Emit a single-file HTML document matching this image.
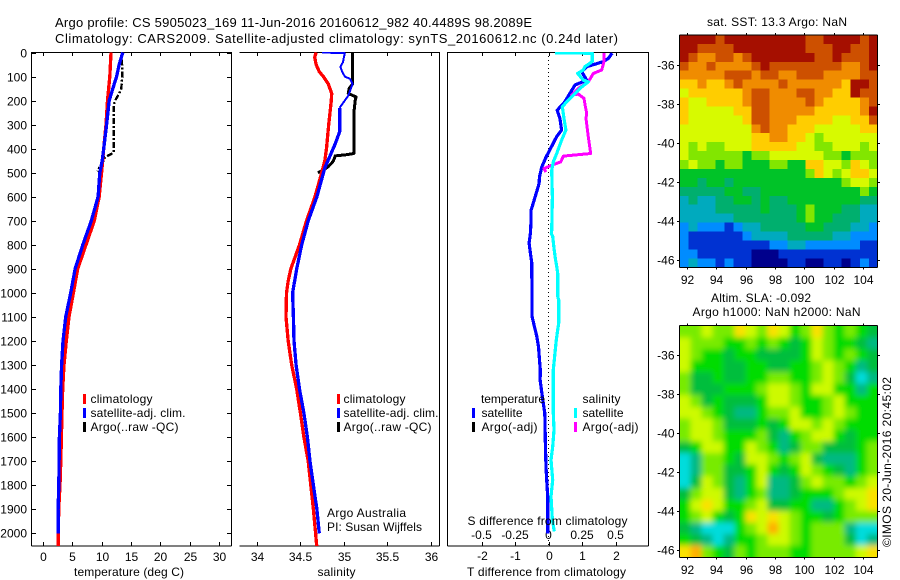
<!DOCTYPE html>
<html lang="en">
<head>
<meta charset="utf-8">
<title>Argo profile 5905023_169</title>
<style>
html,body{margin:0;padding:0;background:#fff;}
svg{display:block;font-family:"Liberation Sans",sans-serif;font-size:12px;fill:#000;}
text{fill:#000;}
.big{font-size:13px;}
</style>
</head>
<body>
<svg id="chart" xmlns="http://www.w3.org/2000/svg" width="900" height="580" viewBox="0 0 900 580">
  <rect x="0" y="0" width="900" height="580" fill="#ffffff"/>
  <defs>
    <clipPath id="clip-t"><rect x="31.5" y="52" width="200" height="494"/></clipPath>
    <clipPath id="clip-s"><rect x="239.5" y="52" width="200" height="494"/></clipPath>
    <clipPath id="clip-d"><rect x="447.5" y="52" width="201" height="494"/></clipPath>
    <clipPath id="clip-sla"><rect x="679.5" y="325.5" width="198" height="232"/></clipPath>
    <filter id="sla-blur" x="-10%" y="-10%" width="120%" height="120%"><feGaussianBlur stdDeviation="3"/></filter>
  </defs>

  <text class="big" x="55" y="27" textLength="477">Argo profile: CS 5905023_169 11-Jun-2016 20160612_982 40.4489S 98.2089E</text>
  <text class="big" x="55" y="43" textLength="563">Climatology: CARS2009. Satellite-adjusted climatology: synTS_20160612.nc (0.24d later)</text>

  <g id="sst-map"></g>
  <g clip-path="url(#clip-sla)"><g id="sla-map" filter="url(#sla-blur)"></g></g>
  <g id="axes"></g>
  <g id="lines-t" clip-path="url(#clip-t)"></g>
  <g id="lines-s" clip-path="url(#clip-s)"></g>
  <g id="lines-d" clip-path="url(#clip-d)"></g>

  <g>
    <rect x="83" y="394" width="3" height="10" fill="#ff0000"/>
    <rect x="83" y="408" width="3" height="10" fill="#0000ff"/>
    <rect x="83" y="422" width="3" height="10" fill="#000000"/>
    <text x="90.5" y="403" textLength="62">climatology</text>
    <text x="90.5" y="417" textLength="95">satellite-adj. clim.</text>
    <text x="90.5" y="431" textLength="88">Argo(..raw -QC)</text>
  </g>
  <g>
    <rect x="337" y="394" width="3" height="10" fill="#ff0000"/>
    <rect x="337" y="408" width="3" height="10" fill="#0000ff"/>
    <rect x="337" y="422" width="3" height="10" fill="#000000"/>
    <text x="343.5" y="403" textLength="62">climatology</text>
    <text x="343.5" y="417" textLength="95">satellite-adj. clim.</text>
    <text x="343.5" y="431" textLength="88">Argo(..raw -QC)</text>
    <text x="327" y="517" textLength="79">Argo Australia</text>
    <text x="327" y="531" textLength="95">PI: Susan Wijffels</text>
  </g>
  <g>
    <text x="481" y="403" textLength="64">temperature</text>
    <text x="582.5" y="403" textLength="38">salinity</text>
    <rect x="472" y="408" width="3" height="10" fill="#0000ff"/>
    <rect x="472" y="422" width="3" height="10" fill="#000000"/>
    <rect x="574" y="408" width="3" height="10" fill="#00ffff"/>
    <rect x="574" y="422" width="3" height="10" fill="#ff00ff"/>
    <text x="481.5" y="417" textLength="41">satellite</text>
    <text x="481.5" y="431" textLength="56">Argo(-adj)</text>
    <text x="582.5" y="417" textLength="41">satellite</text>
    <text x="582.5" y="431" textLength="56">Argo(-adj)</text>
    <text x="467.5" y="525" textLength="160">S difference from climatology</text>
  </g>

  <text x="74" y="576" textLength="110">temperature (deg C)</text>
  <text x="317.5" y="576" textLength="38">salinity</text>
  <text x="467" y="576" textLength="159">T difference from climatology</text>

  <text x="707" y="26" textLength="140">sat. SST: 13.3 Argo: NaN</text>
  <text x="711" y="302" textLength="100">Altim. SLA: -0.092</text>
  <text x="692.5" y="316" textLength="168">Argo h1000: NaN h2000: NaN</text>
  <text transform="translate(891,547) rotate(-90)" x="0" y="0" textLength="170">©IMOS 20-Jun-2016 20:45:02</text>
</svg>

<script>
// ---- axis tick labels ----
const depthTicks = [0,100,200,300,400,500,600,700,800,900,1000,1100,1200,1300,1400,1500,1600,1700,1800,1900,2000];
const tempTicks = [0,5,10,15,20,25,30];
const salTicks = [34,34.5,35,35.5,36];
const tDiffTicks = [-2,-1,0,1,2];
const sDiffTicks = [-0.5,-0.25,0,0.25,0.5];
const sDiffLabels = ['-0.5','-0.25','0','0.25','0.5'];
const lonTicks = [92,94,96,98,100,102,104];
const latTicks = [-36,-38,-40,-42,-44,-46];

// ---- temperature panel series ----
const tClimDepth = [0,50,100,200,300,400,500,600,700,800,900,1000,1100,1200,1300,1400,1500,1600,1700,1800,1900,2000,2060];
const tClimValue = [11.6,11.5,11.4,11.0,10.75,10.35,10.0,9.6,8.76,7.35,5.93,5.2,4.45,4.0,3.6,3.38,3.27,3.17,3.06,2.93,2.7,2.65,2.6];
const tSatDepth = [0,50,100,150,200,300,400,450,500,600,700,800,900,1000,1100,1200,1300,1400,1500,1600,1700,1800,1900,2000];
const tSatValue = [13.6,13.0,12.55,11.9,11.3,10.85,10.35,10.1,9.7,9.4,8.25,6.8,5.5,4.75,3.9,3.43,3.2,3.06,3.0,2.83,2.78,2.72,2.6,2.6];
const tArgoDepth = [30,100,150,170,200,215,300,415,425,435,470,480,495];
const tArgoValue = [13.47,13.5,13.35,13.0,12.3,12.1,12.05,12.05,11.43,10.6,10.0,9.6,9.3];

// ---- salinity panel series ----
const sClimDepth = [0,20,50,80,100,130,170,200,300,400,450,500,600,700,800,850,900,950,1000,1100,1200,1300,1400,1500,1600,1700,1800,1900,2000,2060];
const sClimValue = [34.68,34.664,34.68,34.717,34.763,34.82,34.86,34.855,34.825,34.80,34.78,34.745,34.668,34.57,34.49,34.44,34.39,34.36,34.34,34.335,34.36,34.4,34.457,34.5,34.54,34.59,34.62,34.65,34.675,34.69];
const sSatDepth = [0,3,20,40,60,80,100,110,130,150,180,230,330,380,430,480,600,700,800,900,1000,1100,1200,1300,1400,1500,1600,1700,1800,1900,2000];
const sSatValue = [34.75,35.01,35.0,34.99,34.96,34.98,35.01,35.07,35.1,35.08,35.05,34.95,34.95,34.9,34.84,34.78,34.69,34.59,34.515,34.457,34.41,34.42,34.426,34.45,34.49,34.54,34.58,34.61,34.65,34.69,34.717];
const sArgoDepth = [0,130,150,170,185,200,250,420,425,430,450,460,475,490,500];
const sArgoValue = [35.1,35.1,35.06,35.05,35.14,35.13,35.115,35.115,35.03,34.9,34.88,34.86,34.82,34.756,34.7];

// ---- difference panel series ----
const dTSatDepth = [3,24,38,59,80,115,135,170,205,240,274,323,351,392,434,476,517,545,601,656,697,752,793,835,877,932,974,1098,1140,1181,1223,1279,1320,1362,1445,1501,1612,1724,1778,1847,2000];
const dTSatValue = [1.9,1.79,1.64,1.14,0.99,1.14,0.79,0.64,0.49,0.26,0.34,0.39,0.24,0.09,-0.07,-0.2,-0.27,-0.28,-0.4,-0.52,-0.52,-0.54,-0.58,-0.54,-0.5,-0.5,-0.49,-0.49,-0.42,-0.35,-0.3,-0.27,-0.245,-0.25,-0.17,-0.11,-0.095,-0.075,-0.055,-0.025,-0.025];
const dSSatDepth = [2,3,38,59,73,87,115,122,149,177,205,226,274,323,365,420,455,490,601,740,752,766,814,856,890,918,1015,1029,1126,1154,1195,1237,1279,1320,1403,1501,1570,1640,1695,1778,1847,1944,1992];
const dSSatValue = [0.05,0.327,0.327,0.272,0.26,0.218,0.26,0.297,0.235,0.185,0.136,0.103,0.116,0.13,0.098,0.061,0.036,0.024,0.029,0.024,0.021,0.031,0.041,0.051,0.061,0.069,0.069,0.076,0.076,0.069,0.058,0.051,0.043,0.036,0.036,0.036,0.041,0.031,0.019,0.031,0.019,0.029,0.043];
const dSArgoDepth = [3,38,73,87,122,149,177,173,191,226,253,274,351,420,431,455,469,483,497];
const dSArgoValue = [0.414,0.414,0.397,0.335,0.297,0.223,0.173,0.223,0.265,0.275,0.285,0.28,0.297,0.315,0.111,0.091,0.024,-0.034,-0.019];

// ---- heatmap extents ----
const mapLonRange = [91.5,105];
const sstLatRange = [-34.46,-46.37];
const slaLatRange = [-34.5,-46.37];

// ---- sat. SST colour levels (north row first, west column first) ----
const sstLevels = [
[11,11,11,11,10,11,11,11,11,11,11,11,11,11,10,10,11,11,11,11,10,11],
[11,11,10,10,10,10,11,11,11,11,11,11,11,11,10,10,10,11,11,10,10,11],
[11,10,9,9,10,10,9,10,11,11,11,11,11,11,11,10,10,11,10,10,10,11],
[10,9,9,10,9,9,9,9,10,11,10,10,10,10,10,10,10,10,9,9,10,11],
[9,9,9,9,9,10,10,10,9,10,10,9,9,10,10,10,9,9,9,9,10,10],
[8,8,9,8,8,9,10,9,9,9,9,10,9,9,9,9,9,9,8,11,11,10],
[7,8,8,8,8,8,8,9,10,10,9,9,9,10,10,9,9,8,8,11,10,10],
[8,7,7,8,8,8,8,9,10,10,9,9,9,9,10,9,8,8,8,8,9,10],
[8,7,7,7,7,7,8,8,10,10,9,9,9,9,9,8,8,8,8,8,9,11],
[8,7,7,7,7,7,7,8,10,10,9,9,9,8,8,8,8,7,7,8,8,10],
[7,7,7,7,7,7,7,7,9,10,9,9,8,8,8,7,7,7,7,7,8,8],
[7,7,7,7,7,7,7,7,8,8,9,9,8,8,7,6,7,7,7,7,7,7],
[7,6,7,6,6,7,7,7,8,8,8,8,8,7,7,6,6,7,7,7,6,7],
[7,6,6,6,6,6,6,5,6,6,7,7,7,7,7,7,6,6,5,6,6,6],
[6,7,6,6,5,6,6,5,5,5,6,6,5,5,8,8,7,7,6,8,7,6],
[5,5,5,5,5,5,5,5,5,5,5,5,5,5,6,8,7,6,7,8,8,7],
[5,5,4,5,5,4,5,5,5,5,5,5,5,5,5,5,5,5,6,7,7,6],
[4,4,4,4,4,5,5,4,4,5,5,5,5,5,5,5,5,5,5,5,6,5],
[3,4,3,3,4,4,5,5,4,5,4,4,5,5,5,5,5,5,5,5,4,4],
[3,3,3,3,4,4,4,4,4,5,4,4,4,5,6,5,5,5,4,4,3,3],
[3,3,3,3,3,3,4,4,4,4,4,4,4,5,6,5,5,4,4,4,3,3],
[2,3,2,2,2,1,2,3,3,4,4,4,4,4,5,5,4,4,4,3,3,2],
[2,1,1,1,1,1,1,2,3,3,3,3,4,4,4,4,4,3,3,2,2,2],
[2,1,1,1,1,1,1,1,1,1,2,2,3,3,2,2,2,2,2,2,1,1],
[2,2,1,1,1,1,1,1,0,0,0,1,1,1,1,1,1,1,1,1,1,1],
[2,3,2,2,1,2,1,1,0,0,0,0,1,1,0,0,1,1,0,1,2,1]
];

// ---- altimetry SLA colour levels (north row first, west column first) ----
const slaLevels = [
[4,4,5,4,4,6,5,4,6,5,3,4,6,4,3,4,3,2],
[5,4,4,4,3,3,4,3,4,3,2,3,5,4,3,3,2,1],
[5,4,3,3,2,3,3,2,2,2,2,3,5,4,3,4,3,2],
[5,3,3,3,2,2,3,3,2,2,3,3,4,5,4,3,1,2],
[4,2,2,3,2,2,3,3,4,4,3,3,4,5,4,2,0,1],
[4,2,2,2,3,3,3,4,5,5,4,3,5,5,3,3,1,3],
[5,4,2,3,2,2,2,3,5,5,4,3,3,4,5,3,3,3],
[5,5,4,3,2,1,1,3,4,4,5,3,3,4,5,4,3,3],
[4,5,5,4,2,2,2,3,2,3,5,5,4,5,4,3,3,3],
[4,5,5,4,3,3,3,4,2,1,3,4,5,5,3,2,3,3],
[2,3,5,5,3,3,5,4,3,1,2,4,4,2,2,2,3,4],
[0,1,4,4,3,2,5,5,4,3,4,5,2,1,1,1,3,4],
[0,1,4,4,2,2,3,5,3,2,3,5,4,3,2,1,3,4],
[0,2,5,4,2,1,3,5,1,1,2,4,5,4,4,3,4,5],
[2,4,5,5,2,1,3,4,1,1,2,3,3,3,4,5,5,6],
[3,5,6,5,3,3,4,5,2,2,3,3,1,1,3,4,5,6],
[3,4,5,3,2,3,6,5,6,5,4,3,3,2,3,4,4,4],
[2,1,0,0,0,3,4,5,7,5,4,3,4,4,4,1,0,0],
[3,2,1,0,1,3,3,4,5,5,4,3,4,4,4,2,0,1],
[6,7,4,3,2,4,3,4,4,4,3,3,4,4,4,4,5,6]
];

const sstColours = ['#00008c','#0032d2','#008cff','#00aabe','#00af6e','#00c328','#82e600','#d7fa00','#ffcd00','#f08c00','#cd5000','#a50f00'];
const slaColours = ['#00dcdc','#00b982','#00be3c','#00dc00','#78eb00','#cdfa00','#fae100','#ffaf00'];

const NS = 'http://www.w3.org/2000/svg';
const yDepth = d => 52.5 + d * 0.2404;
const xTemp = t => 42.8 + t * 5.88;
const xSal = s => 256.9 + (s - 34) * 87;
const xTDiff = d => 548.5 + d * 33.5;
const xSDiff = s => xTDiff(s * 4);
const xLon = lon => 686.7 + (lon - 92) * 14.7;
const ySstLat = lat => 65 + (-36 - lat) * 19.5;
const ySlaLat = lat => 355 + (-36 - lat) * 19.5;

function hexToRgb(h){return [1,3,5].map(i=>parseInt(h.substr(i,2),16));}
function levelColour(palette, v){
  const c = Math.max(0, Math.min(palette.length - 1, v));
  const i = Math.min(Math.floor(c), palette.length - 2);
  const f = c - i;
  const a = hexToRgb(palette[i]), b = hexToRgb(palette[i+1]);
  return 'rgb(' + a.map((p,k)=>Math.round(p+(b[k]-p)*f)).join(',') + ')';
}
function rule(parent,name,x1,y1,x2,y2,w){
  const l = document.createElementNS(NS,'line');
  l.setAttribute('x1',x1);l.setAttribute('y1',y1);l.setAttribute('x2',x2);l.setAttribute('y2',y2);
  l.setAttribute('stroke','#000');l.setAttribute('stroke-width',w||1);
  l.setAttribute('shape-rendering','crispEdges');
  
  
  parent.appendChild(l);
  return l;
}
function label(parent,name,x,y,s,anchor){
  const t = document.createElementNS(NS,'text');
  t.setAttribute('x',x);t.setAttribute('y',y);t.setAttribute('text-anchor',anchor||'middle');
  t.textContent = s;
  
  
  parent.appendChild(t);
}
function series(parent,name,depths,values,xf,colour,width,dash){
  const p = document.createElementNS(NS,'polyline');
  p.setAttribute('points',depths.map((d,i)=>xf(values[i]).toFixed(1)+','+yDepth(d).toFixed(1)).join(' '));
  p.setAttribute('fill','none');p.setAttribute('stroke',colour);p.setAttribute('stroke-width',width);
  p.setAttribute('stroke-linejoin','round');
  p.setAttribute('shape-rendering','crispEdges');
  if(dash) p.setAttribute('stroke-dasharray',dash);
  
  
  parent.appendChild(p);
}
function heatmap(parent,levels,palette,latRange,yLat,pad){
  const rows = levels.length, cols = levels[0].length;
  const dLon = (mapLonRange[1]-mapLonRange[0])/cols, dLat = (latRange[1]-latRange[0])/rows;
  levels.forEach((row,r)=>row.forEach((v,c)=>{
    const x0 = xLon(mapLonRange[0]+c*dLon), x1 = xLon(mapLonRange[0]+(c+1)*dLon);
    const y0 = yLat(latRange[0]+r*dLat), y1 = yLat(latRange[0]+(r+1)*dLat);
    const cell = document.createElementNS(NS,'rect');
    cell.setAttribute('x',(x0-(c===0?pad:0)).toFixed(2));
    cell.setAttribute('y',(y0-(r===0?pad:0)).toFixed(2));
    cell.setAttribute('width',(x1-x0+0.4+(c===0||c===cols-1?pad:0)).toFixed(2));
    cell.setAttribute('height',(y1-y0+0.4+(r===0||r===rows-1?pad:0)).toFixed(2));
    cell.setAttribute('fill',levelColour(palette,v));
    cell.setAttribute('shape-rendering','crispEdges');
    
    
    parent.appendChild(cell);
  }));
}

heatmap(document.getElementById('sst-map'),sstLevels,sstColours,sstLatRange,ySstLat,0);
heatmap(document.getElementById('sla-map'),slaLevels,slaColours,slaLatRange,ySlaLat,14);

const ax = document.getElementById('axes');
const T = 52, B = 546;

// temperature panel frame
rule(ax,'temperature-axis-left',31.5,T,31.5,B);
rule(ax,'temperature-axis-right',231.5,T,231.5,B);
rule(ax,'temperature-axis-top',31.5,T+0.5,231.5,T+0.5);
rule(ax,'temperature-axis-bottom',31.5,B,231.5,B);
depthTicks.forEach(d=>{
  const y = Math.round(yDepth(d))+0.5;
  rule(ax,'depth-tick-left',31.5,y,36,y);
  rule(ax,'depth-tick-right',227,y,231.5,y);
  label(ax,'depth-tick-label',27,y+4,String(d),'end');
});
tempTicks.forEach(v=>{
  const x = Math.round(xTemp(v))+0.5;
  rule(ax,'temperature-tick-top',x,T,x,T+4);
  rule(ax,'temperature-tick-bottom',x,B-4,x,B);
  label(ax,'temperature-tick-label',x,561,String(v));
});

// salinity panel frame
rule(ax,'salinity-axis-right',439.5,T,439.5,B);
rule(ax,'salinity-axis-top',239.5,T+0.5,439.5,T+0.5);
rule(ax,'salinity-axis-bottom',239.5,B,439.5,B);
salTicks.forEach(v=>{
  const x = Math.round(xSal(v))+0.5;
  rule(ax,'salinity-tick-top',x,T,x,T+4);
  rule(ax,'salinity-tick-bottom',x,B-4,x,B);
  label(ax,'salinity-tick-label',x,561,String(v));
});

// difference panel frame
rule(ax,'difference-axis-left',447.5,T,447.5,B);
rule(ax,'difference-axis-right',648.5,T,648.5,B);
rule(ax,'difference-axis-top',447.5,T+0.5,648.5,T+0.5);
rule(ax,'difference-axis-bottom',447.5,B,648.5,B);
tDiffTicks.forEach(v=>{
  const x = Math.round(xTDiff(v))+0.5;
  rule(ax,'t-difference-tick-top',x,T,x,T+4);
  rule(ax,'t-difference-tick-bottom',x,B-4,x,B);
  label(ax,'t-difference-tick-label',x,560,String(v));
});
sDiffTicks.forEach((v,i)=>{
  label(ax,'s-difference-tick-label',xSDiff(v),539,sDiffLabels[i]);
});
const zero = rule(ax,'zero-difference-line',548.5,T,548.5,B);
zero.setAttribute('stroke-dasharray','1 3');

// map frames and ticks
[[35,267.5,ySstLat,284,'sst'],[325.5,557.5,ySlaLat,574,'sla']].forEach(m=>{
  const top = m[0], bot = m[1], yLat = m[2], base = m[3], nm = m[4];
  rule(ax,nm+'-map-frame-left',679.5,top,679.5,bot);
  rule(ax,nm+'-map-frame-right',877.5,top,877.5,bot);
  rule(ax,nm+'-map-frame-top',679.5,top,877.5,top);
  rule(ax,nm+'-map-frame-bottom',679.5,bot,877.5,bot);
  lonTicks.forEach(v=>{
    const x = Math.round(xLon(v))+0.5;
    rule(ax,nm+'-lon-tick-top',x,top-2,x,top);
    rule(ax,nm+'-lon-tick-bottom',x,bot,x,bot+2);
    label(ax,nm+'-lon-tick-label',x,base,String(v));
  });
  latTicks.forEach(v=>{
    const y = Math.round(yLat(v))+0.5;
    rule(ax,nm+'-lat-tick-left',677,y,679.5,y);
    rule(ax,nm+'-lat-tick-right',877.5,y,880,y);
    label(ax,nm+'-lat-tick-label',674.5,y+4,String(v),'end');
  });
});

// series
const lt = document.getElementById('lines-t');
series(lt,'temperature-argo-line',tArgoDepth,tArgoValue,xTemp,'#000000',2.4,'6 2 2 2');
series(lt,'temperature-climatology-line',tClimDepth,tClimValue,xTemp,'#ff0000',3.3);
series(lt,'temperature-satellite-line',tSatDepth,tSatValue,xTemp,'#0000ff',3.3);

const ls = document.getElementById('lines-s');
series(ls,'salinity-argo-line',sArgoDepth,sArgoValue,xSal,'#000000',3);
series(ls,'salinity-climatology-line',sClimDepth,sClimValue,xSal,'#ff0000',3.3);
// upper part of the satellite salinity line is drawn thinner, as in the source figure
const sSatSplit = sSatDepth.indexOf(230);
series(ls,'salinity-satellite-line-upper',sSatDepth.slice(0,sSatSplit+1),sSatValue.slice(0,sSatSplit+1),xSal,'#0000ff',2);
series(ls,'salinity-satellite-line-lower',sSatDepth.slice(sSatSplit),sSatValue.slice(sSatSplit),xSal,'#0000ff',3.3);

const ld = document.getElementById('lines-d');
series(ld,'t-difference-satellite-line',dTSatDepth,dTSatValue,xTDiff,'#0000ff',3.2);
series(ld,'s-difference-argo-line',dSArgoDepth,dSArgoValue,xSDiff,'#ff00ff',3);
series(ld,'s-difference-satellite-line',dSSatDepth,dSSatValue,xSDiff,'#00ffff',3.2);
</script>
</body>
</html>
